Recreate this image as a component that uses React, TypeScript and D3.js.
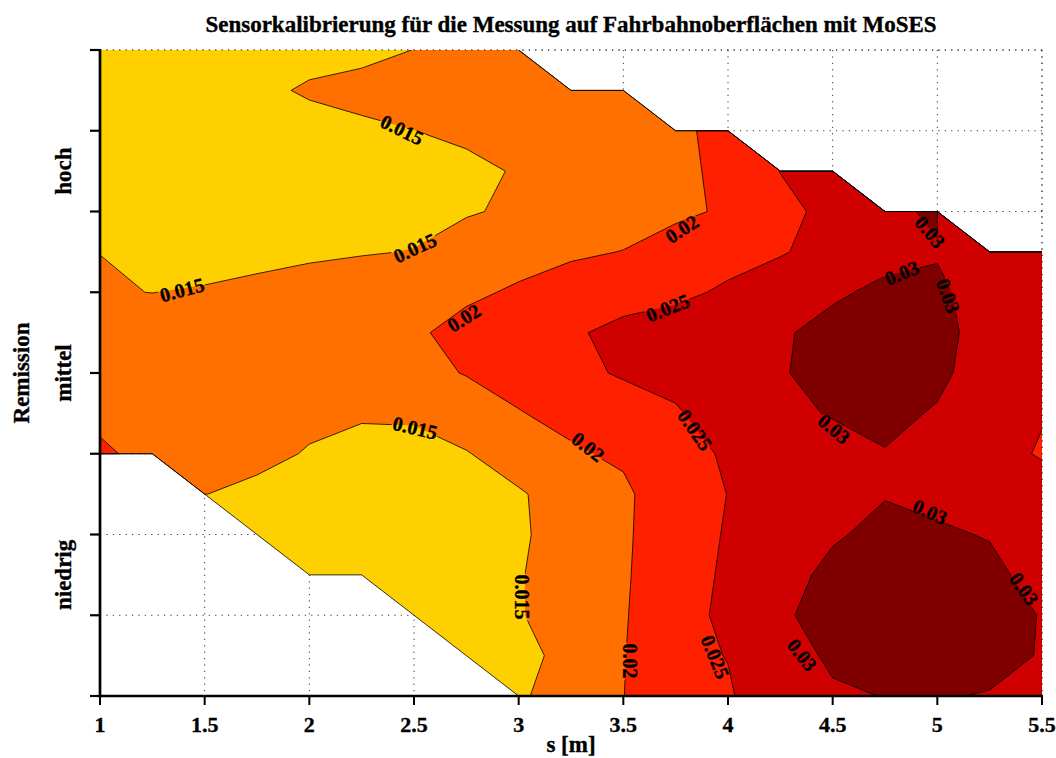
import React from 'react';
import * as d3 from 'd3';

// Grid of the measurement: s [m] (columns) and remission level (rows, top = 8)
const sGrid = [1, 1.25, 1.5, 1.75, 2, 2.25, 2.5, 2.75, 3, 3.25, 3.5, 3.75, 4, 4.25, 4.5, 4.75, 5, 5.25, 5.5];
const remissionGrid = [8, 7.5, 7, 6.5, 6, 5.5, 5, 4.5, 4, 3.5, 3, 2.5, 2, 1.5, 1, 0.5, 0];
const N = NaN;

const zR8_0 = [0.012, 0.012, 0.012, 0.0125, 0.0135, 0.013, 0.0151, 0.016, 0.017, N, N, N, N, N, N, N, N, N, N];
const zR7_5 = [0.012, 0.012, 0.0125, 0.01401, 0.01553, 0.01744, 0.0175, 0.0178, 0.018, 0.0185, 0.019, N, N, N, N, N, N, N, N];
const zR7_0 = [0.012, 0.012, 0.0125, 0.013, 0.01332, 0.0135, 0.01495, 0.0162, 0.0172, 0.0178, 0.0183, 0.01867, 0.022, N, N, N, N, N, N];
const zR6_5 = [0.012, 0.012, 0.0125, 0.013, 0.0133, 0.0135, 0.014, 0.01353, 0.0155, 0.017, 0.0182, 0.019, 0.021, 0.0251, 0.0265, N, N, N, N];
const zR6_0 = [0.012, 0.012, 0.0125, 0.013, 0.0133, 0.0136, 0.0142, 0.01457, 0.0158, 0.0172, 0.0185, 0.0192, 0.02053, 0.0235, 0.0265, 0.0285, 0.031, N, N];
const zR5_5 = [0.01499, 0.0145, 0.014, 0.0142, 0.0143, 0.0148, 0.01509, 0.01744, 0.018, 0.0195, 0.02008, 0.02187, 0.0235, 0.0246, 0.0268, 0.0285, 0.0296, 0.028, 0.027];
const zR5_0 = [0.01512, 0.01498, 0.01522, 0.01568, 0.0168, 0.0168, 0.0175, 0.01903, 0.0207, 0.0216, 0.0225, 0.02404, 0.02564, 0.0279, 0.0293, 0.031, 0.031, 0.0275, 0.027];
const zR4_5 = [0.016, 0.016, 0.0165, 0.017, 0.0175, 0.018, 0.0192, 0.02178, 0.022, 0.02418, 0.02667, 0.0272, 0.0275, 0.02942, 0.0315, 0.033, 0.0315, 0.02793, 0.027];
const zR4_0 = [0.0172, 0.017, 0.017, 0.0175, 0.018, 0.0185, 0.019, 0.02016, 0.0215, 0.0235, 0.02561, 0.027, 0.028, 0.0295, 0.03228, 0.0335, 0.031, 0.02767, 0.0265];
const zR3_5 = [0.0186, 0.0178, 0.0175, 0.0172, 0.0165, 0.0158, 0.016, 0.01816, 0.0198, 0.0212, 0.02202, 0.02433, 0.0285, 0.029, 0.03028, 0.03116, 0.02959, 0.0275, 0.02535];
const zR3_0 = [0.021, 0.0182, 0.0165, 0.01677, 0.01453, 0.0126, 0.01267, 0.01469, 0.01779, 0.01944, 0.02077, 0.0235, 0.0255, 0.027, 0.02841, 0.02978, 0.0285, 0.027, 0.0245];
const zR2_5 = [N, N, 0.0151, 0.0134, 0.0125, 0.012, 0.012, 0.013, 0.01443, 0.0176, 0.01906, 0.02333, 0.02505, 0.027, 0.028, 0.0295, 0.029, 0.028, 0.0276];
const zR2_0 = [N, N, N, 0.012, 0.0115, 0.0115, 0.012, 0.013, 0.0142, 0.01753, 0.0195, 0.02213, 0.02547, 0.0275, 0.02887, 0.03263, 0.03054, 0.02976, 0.027];
const zR1_5 = [N, N, N, N, 0.011, 0.011, 0.0115, 0.0125, 0.0145, 0.01867, 0.0196, 0.02227, 0.02591, 0.02604, 0.03264, 0.034, 0.034, 0.03109, 0.02837];
const zR1_0 = [N, N, N, N, N, N, 0.0115, 0.0125, 0.0145, 0.01867, 0.0197, 0.0227, 0.02629, 0.02903, 0.0325, 0.035, 0.035, 0.0325, 0.02972];
const zR0_5 = [N, N, N, N, N, N, N, 0.013, 0.0142, 0.01583, 0.0198, 0.0238, 0.02513, 0.02594, 0.0315, 0.034, 0.034, 0.0325, 0.02952];
const zR0_0 = [N, N, N, N, N, N, N, N, 0.0145, 0.01677, 0.01995, 0.02245, 0.0245, 0.02835, 0.02877, 0.03022, 0.03054, 0.02956, 0.028];

const zRows = [zR8_0, zR7_5, zR7_0, zR6_5, zR6_0, zR5_5, zR5_0, zR4_5, zR4_0, zR3_5, zR3_0, zR2_5, zR2_0, zR1_5, zR1_0, zR0_5, zR0_0];

const levels = [0.015, 0.02, 0.025, 0.03];
const bandColors = ['#ffd000', '#ff7000', '#ff2000', '#d00000', '#800000'];

const xTicks = [1, 1.5, 2, 2.5, 3, 3.5, 4, 4.5, 5, 5.5];
const yTicks = [0, 1, 2, 3, 4, 5, 6, 7, 8];
const remissionNames = ['niedrig', 'mittel', 'hoch'];
const remissionNamePos = [1.5, 4, 6.5];

const labelText = ['0.015', '0.015', '0.015', '0.02', '0.02', '0.025', '0.015', '0.02', '0.025', '0.015', '0.02', '0.025', '0.03', '0.03', '0.03', '0.03', '0.03', '0.03', '0.03'];
const labelS = [2.443, 2.505, 1.392, 2.739, 3.78, 3.713, 2.505, 3.331, 3.842, 3.016, 3.532, 3.938, 4.354, 4.965, 4.831, 5.051, 4.506, 4.965, 5.414];
const labelY = [7.01, 5.548, 5.028, 4.681, 5.783, 4.805, 3.319, 3.084, 3.294, 1.226, 0.433, 0.483, 0.508, 5.746, 5.238, 4.954, 3.307, 2.279, 1.325];
const labelAngle = [26, -25, -15, -32, -33, -22, 13, 38, 55, 90, 90, 68, 52, 50, -22, 70, 40, 25, 55];

const W = 1056;
const H = 758;
const FONT = "'Liberation Serif', 'Times New Roman', Times, serif";

export default function App() {
  const x = d3.scaleLinear().domain([1, 5.5]).range([100, 1042]);
  const y = d3.scaleLinear().domain([0, 8]).range([696, 50]);

  const nx = sGrid.length;
  const ny = remissionGrid.length;
  const values = zRows.flat().map((v) => (Number.isFinite(v) ? v : -1e9));
  const gen = d3.contours().size([nx, ny]);
  const ds = sGrid[1] - sGrid[0];
  const dr = remissionGrid[1] - remissionGrid[0];
  const proj = d3.geoTransform({
    point: function (px: number, py: number) {
      (this as any).stream.point(x(sGrid[0] + (px - 0.5) * ds), y(remissionGrid[0] + (py - 0.5) * dr));
    },
  });
  const path = d3.geoPath(proj);
  const thresholds = [0, ...levels];
  const shapes = thresholds.map((t, k) => ({ d: path(gen.contour(values, t) as any) || '', color: bandColors[k] }));

  const [x0, x1] = x.range();
  const [y0, y1] = [y(8), y(0)];
  const labelFont = 20;
  const labelLen = (t: string) => labelFont * (0.5 * (t.length - 1) + 0.25) + 2;
  const heavy = { stroke: '#000', strokeWidth: 0.35 } as const;

  return (
    <svg width={W} height={H} style={{ position: 'absolute', left: 0, top: 0, background: '#fff' }} fontFamily={FONT}>
      <defs>
        <clipPath id="plotClip">
          <rect x={x0} y={y0} width={x1 - x0} height={y1 - y0} />
        </clipPath>
        <mask id="labelMask" maskUnits="userSpaceOnUse" x={0} y={0} width={W} height={H}>
          <rect x={0} y={0} width={W} height={H} fill="#fff" />
          {labelText.map((t, i) => {
            const w = labelLen(t);
            const h = labelFont * 0.62;
            return (
              <rect key={i} x={-w / 2} y={-h / 2} width={w} height={h} fill="#000"
                transform={`translate(${x(labelS[i])},${y(labelY[i])}) rotate(${labelAngle[i]})`} />
            );
          })}
        </mask>
      </defs>
      <rect x={0} y={0} width={W} height={H} fill="#fff" />

      {/* grid */}
      <g stroke="#333" strokeWidth={1} strokeDasharray="1.2 5.2">
        {xTicks.map((t) => (
          <line key={'gx' + t} x1={x(t)} x2={x(t)} y1={y0} y2={y1} />
        ))}
        {yTicks.map((t) => (
          <line key={'gy' + t} x1={x0} x2={x1} y1={y(t)} y2={y(t)} />
        ))}
      </g>

      {/* filled contours */}
      <g clipPath="url(#plotClip)">
        {shapes.map((s, k) => (
          <path key={'f' + k} d={s.d} fill={s.color} stroke="none" />
        ))}
      </g>
      <g mask="url(#labelMask)">
        <g clipPath="url(#plotClip)">
          {shapes.map((s, k) => (
            <path key={'s' + k} d={s.d} fill="none" stroke="#000" strokeWidth={0.8} strokeLinejoin="round" />
          ))}
        </g>
      </g>

      {/* top and right dotted borders */}
      <g stroke="#333" strokeWidth={1} strokeDasharray="1.2 5.2">
        <line x1={x0} x2={x1} y1={y0} y2={y0} />
        <line x1={x1} x2={x1} y1={y0} y2={y1} />
      </g>

      {/* contour labels */}
      {labelText.map((t, i) => (
        <text key={'l' + i} transform={`translate(${x(labelS[i])},${y(labelY[i])}) rotate(${labelAngle[i]})`}
          textAnchor="middle" dy="0.34em" fontSize={labelFont} fontWeight="bold" fill="#000" {...heavy}>
          {t}
        </text>
      ))}

      {/* axes */}
      <g stroke="#000">
        <line x1={x0} x2={x0} y1={y0 - 1} y2={y1 + 1.3} strokeWidth={2.7} />
        <line x1={x0 - 1.3} x2={x1 + 1} y1={y1} y2={y1} strokeWidth={2.7} />
        {yTicks.map((t) => (
          <line key={'ty' + t} x1={x0 - 10} x2={x0} y1={y(t)} y2={y(t)} strokeWidth={2.2} />
        ))}
        {xTicks.map((t) => (
          <line key={'tx' + t} x1={x(t)} x2={x(t)} y1={y1} y2={y1 + 9} strokeWidth={2} />
        ))}
      </g>

      {/* tick labels */}
      {xTicks.map((t) => (
        <text key={'xl' + t} x={x(t)} y={732} textAnchor="middle" fontSize={22} fontWeight="bold" {...heavy}>
          {String(t)}
        </text>
      ))}
      {remissionNames.map((n, i) => (
        <text key={'yl' + n} transform={`translate(71,${y(remissionNamePos[i])}) rotate(-90)`} textAnchor="middle"
          fontSize={23} fontWeight="bold" {...heavy}>
          {n}
        </text>
      ))}

      <text transform={`translate(29,${(y0 + y1) / 2}) rotate(-90)`} textAnchor="middle" fontSize={23} fontWeight="bold" {...heavy}>
        Remission
      </text>
      <text x={(x0 + x1) / 2} y={752} textAnchor="middle" fontSize={23} fontWeight="bold" {...heavy}>
        s [m]
      </text>
      <text x={(x0 + x1) / 2} y={32} textAnchor="middle" fontSize={23} fontWeight="bold" {...heavy}>
        Sensorkalibrierung für die Messung auf Fahrbahnoberflächen mit MoSES
      </text>
    </svg>
  );
}
